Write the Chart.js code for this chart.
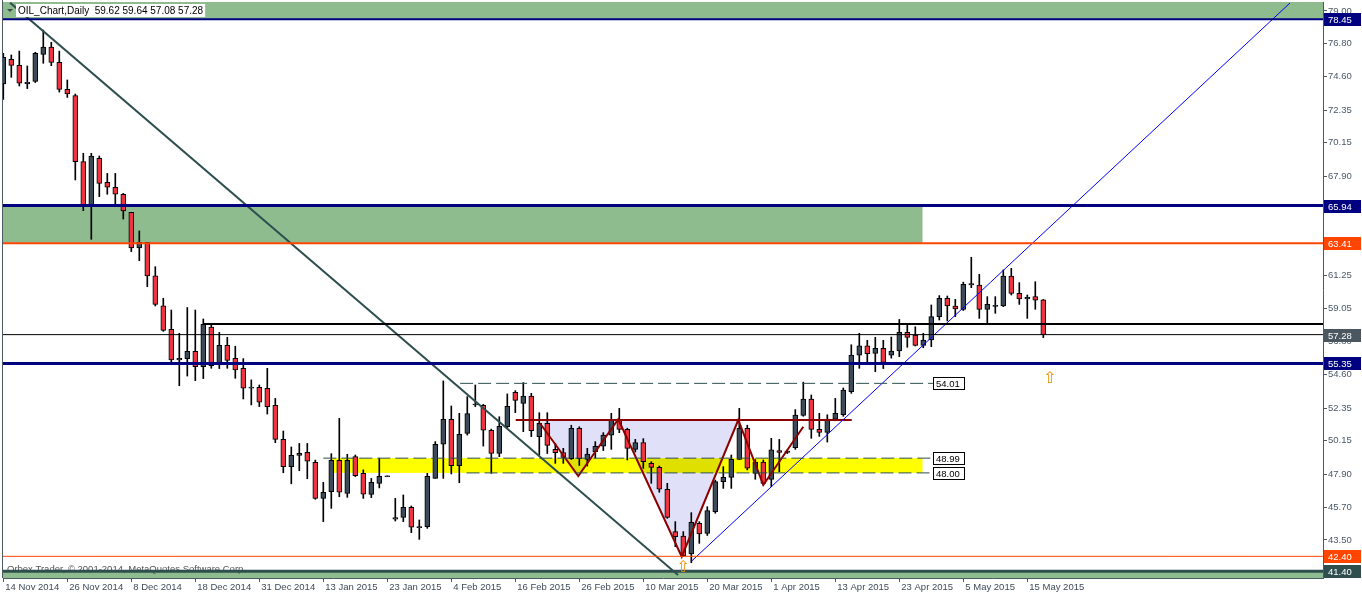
<!DOCTYPE html>
<html>
<head>
<meta charset="utf-8">
<title>OIL_Chart, Daily</title>
<script src="https://cdn.jsdelivr.net/npm/chart.js"></script>
<style>
  html, body { margin: 0; padding: 0; background: #fff; }
  canvas { display: block; }
</style>
</head>
<body>
<canvas id="oil" width="1362" height="594"></canvas>
<script>
// daily bars 14 Nov 2014 .. 19 May 2015, one entry per trading day
const opens = [
  74.10,75.76,75.35,74.13,74.28,76.09,76.58,75.55,73.74,73.32,
  68.89,65.91,69.11,67.50,67.17,66.70,65.49,63.10,63.47,61.22,
  59.22,57.63,55.58,55.66,56.16,55.13,57.79,55.24,56.56,55.69,
  55.02,53.68,53.74,53.68,52.53,50.25,48.42,49.18,49.38,48.71,
  46.29,46.74,48.84,46.63,49.09,47.97,46.56,47.30,47.74,44.90,
  45.02,45.69,44.32,44.39,47.63,49.92,51.60,48.49,50.65,52.56,
  52.53,50.86,49.31,51.10,53.41,52.67,53.16,50.43,51.33,49.58,
  49.36,48.95,50.99,48.91,49.42,49.80,50.54,51.60,50.92,49.58,
  50.03,48.64,48.37,46.90,44.06,43.76,42.56,44.62,43.94,45.40,
  47.41,47.70,48.91,50.99,47.97,48.73,47.57,49.49,49.38,49.70,
  51.86,52.95,50.92,50.72,51.61,51.90,53.45,55.90,56.52,56.02,
  56.36,55.90,56.18,57.43,57.25,56.56,56.92,58.49,59.72,59.20,
  58.98,60.62,60.61,58.98,59.18,59.20,61.21,60.05,59.67,59.83,
  59.62];
const highs = [
  76.16,76.05,76.31,75.31,76.23,77.72,76.90,76.31,74.37,73.43,
  69.45,69.45,69.27,68.10,68.10,66.76,65.49,64.24,63.47,61.84,
  59.72,58.93,57.37,59.10,58.93,58.33,58.00,57.43,57.10,56.50,
  55.67,54.24,53.90,55.02,53.00,50.81,49.74,49.98,49.98,48.86,
  47.37,49.29,51.66,49.25,49.20,48.20,47.63,48.98,47.80,46.29,
  46.52,45.78,44.84,47.97,50.10,54.17,52.49,52.00,53.12,53.90,
  52.60,50.94,51.77,53.30,53.52,54.06,53.34,52.04,52.04,49.98,
  49.65,51.20,51.10,49.65,50.10,50.70,52.00,52.33,51.00,50.25,
  50.30,48.75,48.46,47.30,44.73,44.06,45.33,44.73,45.73,47.52,
  48.42,49.20,52.33,51.20,48.90,48.87,50.32,50.25,49.55,52.25,
  54.09,53.23,52.00,51.90,53.00,53.70,56.60,57.37,56.90,57.10,
  56.90,57.12,58.30,57.93,57.81,57.37,59.27,59.90,59.87,59.65,
  60.80,62.47,61.33,59.83,59.83,61.62,61.73,60.77,59.94,60.83,
  59.64];
const lows = [
  73.07,74.55,73.97,73.79,74.20,75.49,75.33,73.56,73.20,67.66,
  65.60,63.68,66.54,66.70,65.98,65.04,62.85,62.24,60.50,59.20,
  57.50,55.35,53.85,54.50,54.19,54.33,55.02,55.00,55.02,54.35,
  52.96,52.56,52.45,51.95,50.03,48.01,47.27,48.15,47.61,46.23,
  44.73,45.62,46.40,46.36,47.75,46.29,46.34,46.99,47.74,44.77,
  44.73,43.99,43.54,44.28,47.63,47.63,47.93,47.34,50.54,52.45,
  49.80,47.97,49.09,50.99,52.04,50.77,50.43,49.20,49.30,48.64,
  48.64,48.90,48.50,48.46,49.00,49.50,49.58,50.70,48.87,49.40,
  48.30,47.30,46.70,44.95,43.05,42.38,41.97,43.27,43.80,45.29,
  46.96,46.96,48.90,48.20,47.57,47.19,47.08,48.08,49.30,49.58,
  51.80,50.32,50.45,50.07,51.50,51.80,53.34,55.02,55.30,54.79,
  55.00,55.70,55.80,56.43,56.52,56.40,56.47,58.26,58.20,58.49,
  58.90,60.43,58.37,58.08,58.71,59.16,59.94,59.31,58.37,58.98,
  57.08];
const closes = [
  75.89,75.35,74.15,74.22,76.16,76.58,75.55,73.74,73.43,68.89,
  65.91,69.27,67.43,67.17,66.70,65.58,63.10,63.47,61.22,59.31,
  57.57,55.58,55.69,56.16,55.13,57.97,55.20,56.56,55.55,54.91,
  53.68,53.76,52.74,52.45,50.25,48.42,49.18,49.31,48.78,46.29,
  46.70,48.84,46.70,48.84,47.81,46.58,47.37,47.77,47.80,45.00,
  45.69,44.35,44.39,47.77,49.92,51.60,48.49,50.59,51.98,52.62,
  50.86,49.31,51.12,52.47,52.87,53.16,50.83,51.33,49.85,49.36,
  49.04,50.99,48.95,49.27,49.78,50.54,51.60,50.92,49.65,50.03,
  48.75,48.37,46.90,45.02,43.72,42.42,44.68,43.90,45.47,47.41,
  47.70,48.91,50.99,48.31,48.73,47.30,49.54,49.38,49.46,51.88,
  52.95,50.92,50.72,51.61,52.00,53.56,55.91,56.52,56.00,56.36,
  55.41,56.18,57.43,57.10,56.56,56.92,58.49,59.72,59.20,59.00,
  60.66,60.70,58.98,59.31,59.25,61.21,60.05,59.67,59.78,59.60,
  57.28];

// one date label every 8 bars
const dateTicks = ["14 Nov 2014","26 Nov 2014","8 Dec 2014","18 Dec 2014","31 Dec 2014",
  "13 Jan 2015","23 Jan 2015","4 Feb 2015","16 Feb 2015","26 Feb 2015","10 Mar 2015",
  "20 Mar 2015","1 Apr 2015","13 Apr 2015","23 Apr 2015","5 May 2015","15 May 2015"];
const priceTicks = [79.00,76.80,74.60,72.35,70.15,67.90,65.70,63.45,61.25,59.05,
  56.80,54.60,52.35,50.15,47.90,45.70,43.50];

// horizontal levels (price) and the bar index where each one starts (null = left edge)
const levels = [78.45, 65.94, 63.41, 58.00, 57.28, 55.35, 42.40, 41.40];
const levelStart = [null, null, null, 24.96, null, null, null, null];
// dashed levels with a price box at their right end
const dashLevels = [54.01, 48.99, 48.00];
const dashStart = [57.1, 40.0, 57.9];
const dashEnd = 116.2;
// shaded zones: upper price, lower price, first bar, last bar (null = edge)
const zoneHigh = [null, 65.94, 48.99, 41.40];
const zoneLow = [78.45, 63.41, 48.00, null];
const zoneFrom = [null, null, 41.0, null];
const zoneTo = [null, 114.9, 114.9, null];
// trend lines in (bar index, price)
const downTrend = [{x: 0.84, y: 79.56}, {x: 84.34, y: 41.15}];
const upTrend = [{x: 85.96, y: 42.04}, {x: 160.84, y: 79.54}];
const neckline = [{x: 64.05, y: 51.55}, {x: 106.05, y: 51.55}];
const zigzag = [{x: 67.09, y: 51.33}, {x: 71.87, y: 47.79}, {x: 76.87, y: 51.6},
  {x: 84.8, y: 42.38}, {x: 91.87, y: 51.55}, {x: 95.0, y: 47.19}, {x: 100.0, y: 51.1}];
const patternArea = [{x: 67.09, y: 51.55}, {x: 71.87, y: 47.79}, {x: 76.87, y: 51.55},
  {x: 84.8, y: 42.38}, {x: 91.87, y: 51.55}];
const arrows = [{x: 84.96, y: 41.68}, {x: 130.8, y: 54.37}];
const tagValues = [78.45, 65.94, 63.41, 57.28, 55.35, 42.40, 41.40];

const X_MIN = -0.0375, X_MAX = 164.9625, Y_MIN = 40.946, Y_MAX = 79.604;
const FONT = 'Liberation Sans';
const AXIS = '#4c5a66';

const levelColors = ['#000080', '#000080', '#ff4500', '#000000', '#000000', '#000080', '#ff4500', '#2f4f4f'];
const levelWidths = [2, 3, 2, 2, 1, 3, 1, 3];
const zoneColors = ['#8fbc8f', '#8fbc8f', '#ffff00', '#8fbc8f'];
const tagColors = ['#000080', '#000080', '#ff4500', '#4a5660', '#000080', '#ff4500', '#2f4f4f'];

function lineSet(points, color, width, dash) {
  return {
    type: 'line', data: points, borderColor: color, borderWidth: width,
    borderDash: dash || [], pointRadius: 0, fill: false, tension: 0, order: 1
  };
}

const datasets = [];
datasets.push({
  type: 'bar', order: 2, grouped: false, barThickness: 5,
  data: opens.map((o, i) => ({x: i, y: [o, closes[i]]})),
  backgroundColor: opens.map((o, i) => closes[i] >= o ? '#3d4a57' : '#ef3340'),
  borderColor: '#000', borderWidth: 1, borderSkipped: false
});
datasets.push({
  type: 'bar', order: 3, grouped: false, barThickness: 1,
  data: opens.map((o, i) => ({x: i, y: [lows[i], highs[i]]})),
  backgroundColor: '#000', borderWidth: 0
});
levels.forEach((v, i) => {
  const from = levelStart[i] === null ? X_MIN : levelStart[i];
  datasets.push(lineSet([{x: from, y: v}, {x: X_MAX, y: v}], levelColors[i], levelWidths[i]));
});
dashLevels.forEach((v, i) => {
  datasets.push(lineSet([{x: dashStart[i], y: v}, {x: dashEnd, y: v}], '#2f4f4f', 1, [13, 5]));
});
datasets.push(lineSet(downTrend, '#2f4f4f', 2));
datasets.push(lineSet(upTrend, '#0000ff', 1));
datasets.push(lineSet(neckline, '#8b0000', 2));
datasets.push(lineSet(zigzag, '#8b0000', 2));

const overlay = {
  id: 'overlay',
  beforeDatasetsDraw(chart) {
    const {ctx, chartArea: a, scales: {x, y}} = chart;
    ctx.save();
    ctx.beginPath();
    ctx.rect(a.left, a.top, a.width, a.height);
    ctx.clip();
    zoneHigh.forEach((hi, i) => {
      const x0 = x.getPixelForValue(zoneFrom[i] === null ? X_MIN : zoneFrom[i]);
      const x1 = x.getPixelForValue(zoneTo[i] === null ? X_MAX : zoneTo[i]);
      const y0 = y.getPixelForValue(hi === null ? Y_MAX : hi);
      const y1 = y.getPixelForValue(zoneLow[i] === null ? Y_MIN : zoneLow[i]);
      ctx.fillStyle = zoneColors[i];
      ctx.fillRect(x0, y0, x1 - x0, y1 - y0);
    });
    ctx.font = '9.5px ' + FONT;
    ctx.fillStyle = '#555';
    ctx.textBaseline = 'alphabetic';
    ctx.fillText('Orbex Trader, \u00a9 2001-2014, MetaQuotes Software Corp.', 7, 572);
    // pattern area, multiplied so it darkens the yellow band where they overlap
    ctx.globalCompositeOperation = 'multiply';
    ctx.fillStyle = '#e0e0f8';
    ctx.beginPath();
    patternArea.forEach((p, i) => {
      const px = x.getPixelForValue(p.x), py = y.getPixelForValue(p.y);
      if (i === 0) ctx.moveTo(px, py); else ctx.lineTo(px, py);
    });
    ctx.closePath();
    ctx.fill();
    ctx.restore();
  },
  afterDraw(chart) {
    const {ctx, chartArea: a, scales: {x, y}} = chart;
    ctx.save();
    // left frame
    ctx.strokeStyle = AXIS;
    ctx.lineWidth = 1;
    ctx.beginPath();
    ctx.moveTo(2.5, 0);
    ctx.lineTo(2.5, a.bottom);
    ctx.stroke();

    ctx.font = '9.5px ' + FONT;
    ctx.textBaseline = 'middle';
    // price boxes at the end of the dashed levels
    dashLevels.forEach(v => {
      const px = Math.round(x.getPixelForValue(dashEnd));
      const py = Math.round(y.getPixelForValue(v));
      ctx.fillStyle = '#fff';
      ctx.fillRect(px, py - 6, 32, 13);
      ctx.strokeStyle = '#000';
      ctx.strokeRect(px + 0.5, py - 5.5, 31, 12);
      ctx.fillStyle = '#000';
      ctx.fillText(v.toFixed(2), px + 3, py + 1);
    });
    // arrows
    ctx.font = '16px DejaVu Sans';
    ctx.textAlign = 'center';
    arrows.forEach(p => {
      const px = x.getPixelForValue(p.x), py = y.getPixelForValue(p.y) + 1;
      ctx.fillStyle = '#f08c00';
      ctx.fillText('\u21e7', px, py);
    });
    ctx.textAlign = 'left';
    // price tags on the axis
    ctx.font = '9.5px ' + FONT;
    tagValues.forEach((v, i) => {
      const py = Math.round(y.getPixelForValue(v));
      ctx.fillStyle = tagColors[i];
      ctx.fillRect(a.right + 1, py - 6, 37, 13);
      ctx.fillStyle = '#fff';
      ctx.fillText(v.toFixed(2), a.right + 5, py + 1);
    });
    // title
    const last = opens.length - 1;
    const title = 'OIL_Chart,Daily  ' + [opens[last], highs[last], lows[last], closes[last]]
      .map(v => v.toFixed(2)).join(' ');
    ctx.font = '10px ' + FONT;
    const w = ctx.measureText(title).width;
    ctx.fillStyle = '#fff';
    ctx.fillRect(16, 4, w + 4, 13);
    ctx.fillStyle = '#000';
    ctx.fillText(title, 18, 11);
    ctx.fillStyle = '#3a4650';
    ctx.beginPath();
    ctx.moveTo(7, 9); ctx.lineTo(13, 9); ctx.lineTo(10, 12);
    ctx.closePath();
    ctx.fill();
    ctx.restore();
  }
};

new Chart(document.getElementById('oil'), {
  type: 'bar',
  data: {datasets: datasets},
  options: {
    responsive: false,
    animation: false,
    devicePixelRatio: 1,
    events: [],
    layout: {padding: {left: 3, top: 2, right: 0, bottom: 0}},
    plugins: {legend: {display: false}, tooltip: {enabled: false}},
    scales: {
      x: {
        type: 'linear', position: 'bottom', min: X_MIN, max: X_MAX, offset: false,
        afterBuildTicks: s => { s.ticks = dateTicks.map((t, i) => ({value: i * 8})); },
        afterFit: s => { s.height = 16; s.paddingLeft = 0; s.paddingRight = 0; },
        ticks: {
          callback: v => dateTicks[Math.round(v / 8)], autoSkip: false, maxRotation: 0,
          align: 'start', labelOffset: 2, padding: 0, color: '#3f4b57',
          font: {family: FONT, size: 9.5}
        },
        grid: {drawOnChartArea: false, drawTicks: true, tickLength: 4, tickColor: AXIS, offset: false},
        border: {display: true, color: AXIS}
      },
      y: {
        position: 'right', min: Y_MIN, max: Y_MAX,
        afterBuildTicks: s => { s.ticks = priceTicks.map(v => ({value: v})); },
        afterFit: s => { s.width = 39; s.paddingTop = 0; s.paddingBottom = 0; },
        ticks: {
          callback: v => v.toFixed(2), padding: 1, color: '#4a5866',
          font: {family: FONT, size: 9.5}
        },
        grid: {drawOnChartArea: false, drawTicks: true, tickLength: 4, tickColor: AXIS},
        border: {display: true, color: AXIS}
      }
    }
  },
  plugins: [overlay]
});
</script>
</body>
</html>
